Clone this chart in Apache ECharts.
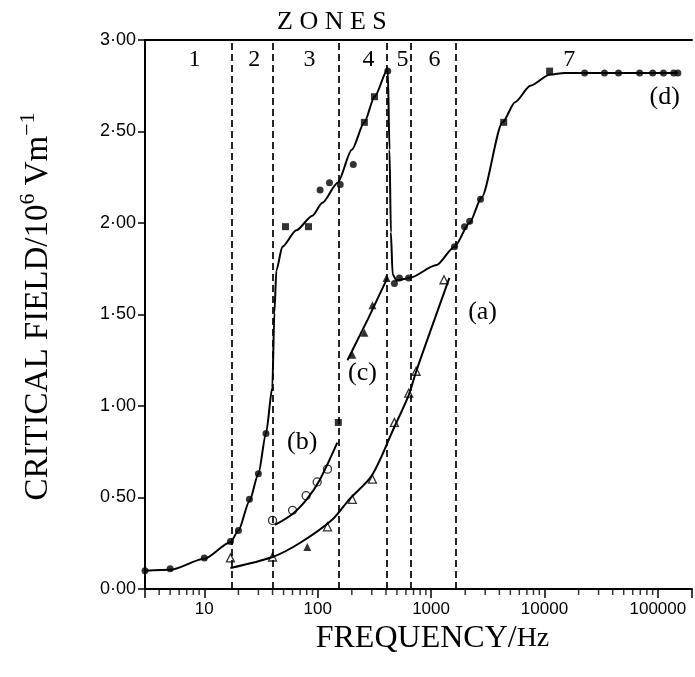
<!DOCTYPE html>
<html><head><meta charset="utf-8">
<script src="https://cdn.jsdelivr.net/npm/echarts@6/dist/echarts.min.js"></script>
<style>html,body{margin:0;padding:0;background:#fff}#c{width:695px;height:677px}</style>
</head><body><div id="c"></div>
<script>
// ---- data (frequency Hz, critical field 10^6 V/m) ----
var yTicks = [0, 0.5, 1.0, 1.5, 2.0, 2.5, 3.0];
var xMajorTicks = [10, 100, 1000, 10000, 100000];
var xMinorTicks = [4,5,6,7,8,9,20,30,40,50,60,70,80,90,200,300,400,500,600,700,800,900,
  2000,3000,4000,5000,6000,7000,8000,9000,20000,30000,40000,50000,60000,70000,80000,90000];
var zoneBounds = [17.5, 40, 154, 410, 665, 1660];
var zoneNames = ['1','2','3','4','5','6','7'];
var zoneLabelFreq = [8.2, 27.6, 84.5, 280, 560, 1070, 16500];
var zoneLabelY = 2.89;
var curveNames = ['(a)','(b)','(c)','(d)'];
var curveLabelPos = [[2845,1.51],[73,0.80],[248,1.18],[115000,2.69]];

// fitted curves
var curveD = [[3,0.10],[5,0.105],[10,0.165],[17,0.255],[20,0.32],[25,0.48],[30,0.63],[35,0.85],
  [39.8,1.10],[41.5,1.51],[43.2,1.74],[48.8,1.87],[64.8,1.96],[89.8,2.04],[110,2.11],[150,2.22],
  [200,2.40],[258,2.55],[317,2.69],[415,2.84],[430,2.4],[442,1.95],[458,1.72],[495,1.685],
  [646,1.70],[1117,1.77],[1610,1.87],[2183,2.0],[2787,2.14],[4270,2.55],[5500,2.66],
  [7500,2.75],[11090,2.81],[15000,2.82],[150000,2.82]];
var curveA = [[17,0.115],[40,0.175],[69,0.25],[135,0.38],[190,0.49],[300,0.62],[470,0.88],
  [635,1.06],[740,1.19],[1000,1.42],[1450,1.70]];
var curveB = [[42,0.35],[60,0.41],[80,0.49],[103,0.59],[149,0.80]];
var curveC = [[183,1.25],[280,1.48],[412,1.70]];

// measured points
var dCircles = [[3,0.10],[5,0.11],[10,0.17],[17,0.26],[20,0.32],[25,0.49],[30,0.63],[35,0.85],
  [105,2.18],[127,2.22],[158,2.21],[206,2.32],[415,2.83],[475,1.67],[526,1.70],[634,1.70],
  [1610,1.87],[1972,1.98],[2190,2.01],[2730,2.13],[22600,2.82],[33800,2.82],[45000,2.82],
  [69000,2.82],[90000,2.82],[112000,2.82],[138000,2.82],[150000,2.82]];
var dSquares = [[52,1.98],[83,1.98],[258,2.55],[317,2.69],[4370,2.55],[11100,2.83],[152,0.91]];
var aOpenTri = [[17,0.17],[40,0.175],[122,0.34],[202,0.49],[304,0.60],[475,0.91],[635,1.07],[738,1.19],[1300,1.69]];
var aFilledTri = [[81,0.23]];
var bOpenCircles = [[40,0.375],[60,0.43],[79,0.51],[99,0.585],[122,0.655]];
var cFilledTri = [[202,1.28],[258,1.40],[304,1.55],[405,1.70]];

var SERIF = '"Liberation Serif","DejaVu Serif",serif';
var SANS = '"Liberation Sans",Arial,sans-serif';

function isPow10(v){var l=Math.log10(v);return Math.abs(l-Math.round(l))<1e-6;}
function textLabel(size){
  return {show:true, position:'inside', formatter:function(p){return p.data[2];},
    fontFamily:SERIF, fontSize:size, color:'#000', textBorderWidth:0, textShadowBlur:0};
}

var chart = echarts.init(document.getElementById('c'), null, {renderer:'canvas'});
var lineStyle = {color:'#000', width:2};
chart.setOption({
  backgroundColor:'#fff',
  animation:false,
  title:{text:'Z O N E S', left:272, top:4, textStyle:{fontFamily:SERIF, fontSize:26, fontWeight:'normal', color:'#000'}},
  grid:{left:145, top:40, right:3, bottom:88},
  xAxis:[{
    type:'log', logBase:10, min:3, max:200000,
    axisLine:{lineStyle:{color:'#000', width:2}},
    axisTick:{show:true, length:9, lineStyle:{color:'#000', width:1.5}},
    axisLabel:{color:'#000', fontFamily:SANS, fontSize:17, margin:12,
      formatter:function(v){return (isPow10(v) && xMajorTicks.indexOf(Math.round(v))>=0)? String(Math.round(v)) : '';}},
    splitLine:{show:false},
    name:'{a|FREQUENCY/}{b|Hz}', nameLocation:'middle', nameGap:34,
    nameTextStyle:{padding:[0,0,0,28], rich:{a:{fontFamily:SERIF, fontSize:32, color:'#000'}, b:{fontFamily:SERIF, fontSize:28, color:'#000'}}}
  },{
    type:'value', position:'top', min:0, max:1,
    axisLine:{show:true, onZero:false, lineStyle:{color:'#000', width:2}},
    axisTick:{show:false}, axisLabel:{show:false}, splitLine:{show:false}
  }],
  yAxis:{
    type:'value', min:0, max:3, interval:0.5,
    axisLine:{show:true, lineStyle:{color:'#000', width:2}},
    axisTick:{show:true, length:7, lineStyle:{color:'#000', width:1.5}},
    axisLabel:{color:'#000', fontFamily:SANS, fontSize:18, margin:9,
      formatter:function(v){return v.toFixed(2).replace('.', '·');}},
    splitLine:{show:false},
    name:'{a|CRITICAL FIELD/10}{s|6}{a| Vm}{s|−1}', nameLocation:'middle', nameRotate:90, nameGap:86,
    nameTextStyle:{padding:[0,0,0,16], rich:{a:{fontFamily:SERIF, fontSize:33, color:'#000', lineHeight:42}, s:{fontFamily:SERIF, fontSize:22, color:'#000', verticalAlign:'top', lineHeight:22}}}
  },
  series:[
    {type:'line', data:curveD, smooth:0.25, smoothMonotone:'x', showSymbol:false, lineStyle:lineStyle, silent:true,
      markLine:{symbol:'none', silent:true, label:{show:false}, animation:false,
        lineStyle:{color:'#000', width:1.7, type:[7,4]},
        data:zoneBounds.map(function(v){return {xAxis:v};})}},
    {type:'line', data:curveA, smooth:0.3, showSymbol:false, lineStyle:lineStyle, silent:true},
    {type:'line', data:curveB, smooth:0.3, showSymbol:false, lineStyle:lineStyle, silent:true},
    {type:'line', data:curveC, smooth:false, showSymbol:false, lineStyle:lineStyle, silent:true},
    {type:'scatter', data:dCircles, symbol:'circle', symbolSize:7, itemStyle:{color:'#000'}},
    {type:'scatter', data:dSquares, symbol:'rect', symbolSize:7, itemStyle:{color:'#000'}},
    {type:'scatter', data:aOpenTri, symbol:'triangle', symbolSize:8, itemStyle:{color:'#fff', borderColor:'#000', borderWidth:1.3}},
    {type:'scatter', data:aFilledTri, symbol:'triangle', symbolSize:8, itemStyle:{color:'#000'}},
    {type:'scatter', data:bOpenCircles, symbol:'circle', symbolSize:8, itemStyle:{color:'#fff', borderColor:'#000', borderWidth:1.3}},
    {type:'scatter', data:cFilledTri, symbol:'triangle', symbolSize:8, itemStyle:{color:'#000'}},
    {type:'scatter', data:xMinorTicks.map(function(v){return [v,0];}), symbol:'rect', symbolSize:[1.5,6], symbolOffset:[0,3],
      clip:false, silent:true, itemStyle:{color:'#000'}},
    {type:'scatter', data:zoneLabelFreq.map(function(v,i){return [v, zoneLabelY, zoneNames[i]];}), symbolSize:0, silent:true,
      itemStyle:{color:'#000', opacity:1}, label:textLabel(24)},
    {type:'scatter', data:curveLabelPos.map(function(v,i){return [v[0], v[1], curveNames[i]];}), symbolSize:0, silent:true,
      itemStyle:{color:'#000', opacity:1}, label:textLabel(26)}
  ]
});
</script></body></html>
